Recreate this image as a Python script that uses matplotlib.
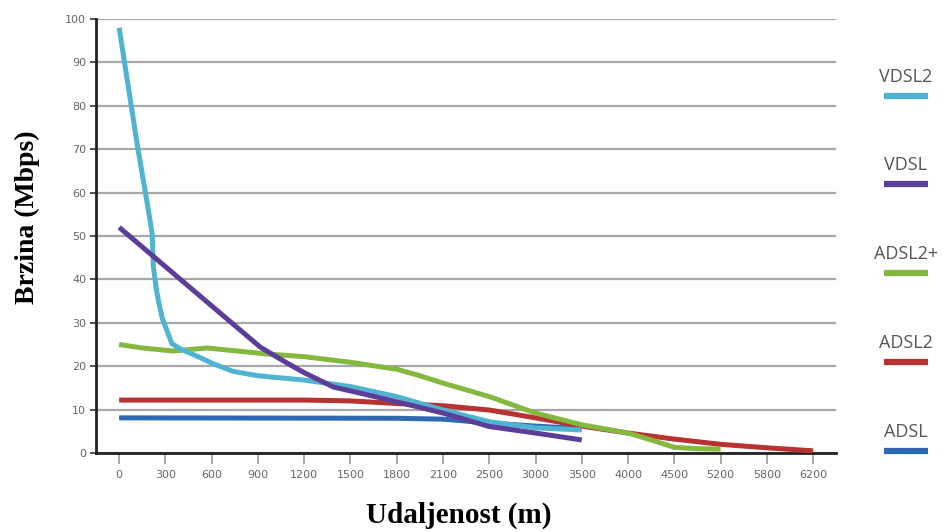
import numpy as np
import matplotlib.pyplot as plt
from matplotlib.lines import Line2D

# x axis categories (distance in metres, equally spaced on the chart)
categories = [0, 300, 600, 900, 1200, 1500, 1800, 2100, 2500, 3000,
              3500, 4000, 4500, 5200, 5800, 6200]

# series: distance (m) and speed (Mbps)
vdsl2_dist = [0, 120, 180, 214, 222, 240, 255, 280, 309, 342, 396, 525, 600,
              740, 900, 1200, 1500, 1800, 2100, 2500, 3000, 3500]
vdsl2_speed = [98, 70.5, 58, 50.6, 43, 38, 35, 31, 28.3, 25.2, 24, 22, 20.7,
               18.8, 17.8, 16.8, 15.3, 13, 9.9, 7.2, 5.8, 5.3]

vdsl_dist = [0, 915, 1090, 1200, 1390, 1610, 1800, 2100, 2500, 3000, 3500]
vdsl_speed = [52, 24.4, 20.7, 18.5, 15.2, 13.4, 11.8, 9.2, 6.1, 4.6, 3.0]

adsl2p_dist = [0, 150, 350, 570, 960, 1200, 1500, 1800, 1950, 2100, 2500,
               3000, 3500, 4000, 4250, 4500, 4850, 5200]
adsl2p_speed = [25, 24.2, 23.5, 24.2, 22.8, 22.2, 20.9, 19.3, 17.8, 16.1, 13,
                9.2, 6.5, 4.6, 3.0, 1.3, 1.0, 0.9]

adsl2_dist = [0, 1200, 1500, 1800, 2100, 2500, 3000, 3500, 4000, 4500, 5200,
              5800, 6200]
adsl2_speed = [12.2, 12.2, 12, 11.4, 10.9, 9.9, 8.1, 6.2, 4.6, 3.2, 2.0, 1.2,
               0.5]

adsl_dist = [0, 1800, 2100, 2500, 3000, 3500]
adsl_speed = [8.1, 8.0, 7.8, 6.9, 6.2, 5.6]

names = ["VDSL2", "VDSL", "ADSL2+", "ADSL2", "ADSL"]
colors = ["#4fb3d1", "#5c3d97", "#84b83e", "#b83230", "#3069b3"]


def to_pos(dist):
    # the axis is categorical: map metres onto the equally spaced slots
    return np.interp(dist, categories, np.arange(len(categories)))


fig = plt.figure(figsize=(9.43, 5.32), dpi=100)
ax = fig.add_axes([0.1018, 0.1485, 0.785, 0.8158])

series = {
    "ADSL": (adsl_dist, adsl_speed),
    "ADSL2": (adsl2_dist, adsl2_speed),
    "ADSL2+": (adsl2p_dist, adsl2p_speed),
    "VDSL2": (vdsl2_dist, vdsl2_speed),
    "VDSL": (vdsl_dist, vdsl_speed),
}
for name in ["ADSL", "ADSL2", "ADSL2+", "VDSL2", "VDSL"]:
    d, s = series[name]
    ax.plot(to_pos(d), s, color=colors[names.index(name)], lw=3.6,
            solid_capstyle="butt", solid_joinstyle="round", zorder=3)

ax.set_xlim(-0.5, len(categories) - 0.5)
ax.set_ylim(0, 100)
ax.set_yticks(np.arange(0, 101, 10))
ax.set_xticks(np.arange(len(categories)))
ax.set_xticklabels([str(c) for c in categories])

ax.grid(axis="y", color="#a8a8a8", lw=1.6)
ax.set_axisbelow(True)
for side in ["top", "right"]:
    ax.spines[side].set_visible(False)
ax.spines["left"].set_linewidth(2)
ax.spines["bottom"].set_linewidth(2)
ax.spines["left"].set_color("#222222")
ax.spines["bottom"].set_color("#222222")
ax.tick_params(axis="y", length=4, width=1.2, color="#333333",
               labelsize=8, labelcolor="#666666", pad=3)
ax.tick_params(axis="x", length=8, width=1.2, color="#999999",
               labelsize=8, labelcolor="#666666", pad=4)

# axis titles, placed where they sit in the picture
fig.text(27 / 943, 1 - 217 / 532, "Brzina (Mbps)", rotation=90,
         ha="center", va="center", fontfamily="Liberation Serif",
         fontweight="bold", fontsize=20)
fig.text(459 / 943, 1 - 515 / 532, "Udaljenost (m)", ha="center",
         va="center", fontfamily="Liberation Serif", fontweight="bold",
         fontsize=21)

# legend on the right: label above a short coloured bar
label_y = [77, 165, 254, 343, 432]
for name, color, ly in zip(names, colors, label_y):
    fy = 1 - ly / 532
    fig.text(906 / 943, fy, name, ha="center", va="center", fontsize=13,
             color="#555555", fontfamily="Open Sans")
    by = 1 - (ly + 18.5) / 532
    fig.add_artist(Line2D([884 / 943, 928 / 943], [by, by], color=color,
                          lw=4.5, solid_capstyle="butt",
                          transform=fig.transFigure))

fig.savefig("out.png", dpi=100)
